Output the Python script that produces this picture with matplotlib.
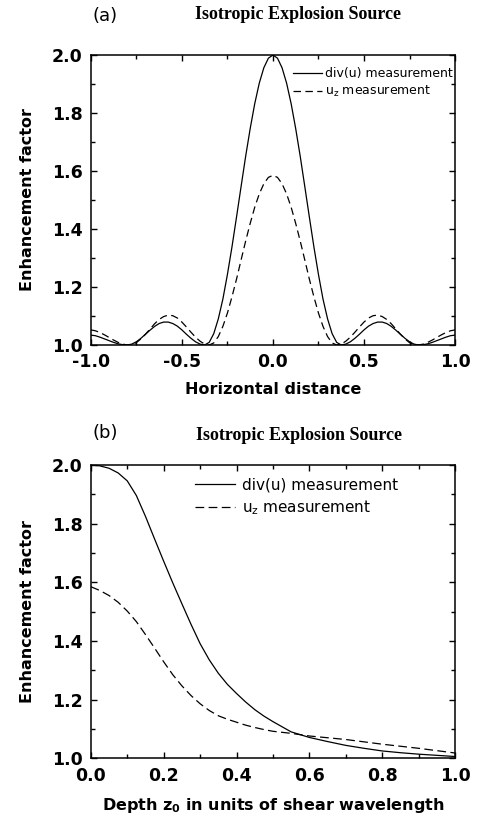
import numpy as np
import matplotlib
matplotlib.use('Agg')
import matplotlib.pyplot as plt
from matplotlib.ticker import MultipleLocator

# panel (a): enhancement factor vs horizontal distance
horiz_x = np.linspace(-1.0, 1.0, 81)
div_u_a = [1.034, 1.032, 1.027, 1.021, 1.015, 1.009, 1.004, 1.001, 1.000, 1.003,
           1.011, 1.023, 1.037, 1.051, 1.064, 1.074, 1.079, 1.079, 1.074, 1.065,
           1.052, 1.037, 1.023, 1.011, 1.003, 1.000, 1.009, 1.039, 1.090, 1.158,
           1.243, 1.338, 1.441, 1.546, 1.650, 1.746, 1.832, 1.903, 1.956, 1.989,
           2.000,
           1.989, 1.956, 1.903, 1.832, 1.746, 1.650, 1.546, 1.441, 1.338, 1.243,
           1.158, 1.090, 1.039, 1.009, 1.000, 1.003, 1.011, 1.023, 1.037, 1.052,
           1.065, 1.074, 1.079, 1.079, 1.074, 1.064, 1.051, 1.037, 1.023, 1.011,
           1.003, 1.000, 1.001, 1.004, 1.009, 1.015, 1.021, 1.027, 1.032, 1.034]
uz_a = [1.052, 1.049, 1.043, 1.035, 1.026, 1.017, 1.009, 1.003, 1.000, 1.001,
        1.008, 1.021, 1.037, 1.055, 1.073, 1.088, 1.098, 1.103, 1.101, 1.093,
        1.079, 1.062, 1.044, 1.027, 1.013, 1.003, 1.000, 1.007, 1.029, 1.064,
        1.110, 1.166, 1.227, 1.293, 1.358, 1.419, 1.475, 1.521, 1.556, 1.578,
        1.585,
        1.578, 1.556, 1.521, 1.475, 1.419, 1.358, 1.293, 1.227, 1.166, 1.110,
        1.064, 1.029, 1.007, 1.000, 1.003, 1.013, 1.027, 1.044, 1.062, 1.079,
        1.093, 1.101, 1.103, 1.098, 1.088, 1.073, 1.055, 1.037, 1.021, 1.008,
        1.001, 1.000, 1.003, 1.009, 1.017, 1.026, 1.035, 1.043, 1.049, 1.052]

# panel (b): enhancement factor vs source depth
depth = [0.0, 0.025, 0.05, 0.075, 0.1, 0.125, 0.15, 0.175, 0.2, 0.225, 0.25,
         0.275, 0.3, 0.325, 0.35, 0.375, 0.4, 0.425, 0.45, 0.475, 0.5,
         0.55, 0.6, 0.65, 0.7, 0.75, 0.8, 0.85, 0.9, 0.95, 1.0]
div_u_b = [2.000, 1.997, 1.989, 1.973, 1.946, 1.896, 1.825, 1.748, 1.672, 1.598,
           1.527, 1.457, 1.391, 1.336, 1.290, 1.252, 1.221, 1.192, 1.166, 1.144,
           1.125, 1.090, 1.071, 1.057, 1.044, 1.034, 1.025, 1.019, 1.014, 1.010,
           1.006]
uz_b = [1.585, 1.572, 1.555, 1.532, 1.502, 1.466, 1.422, 1.376, 1.329, 1.285,
        1.247, 1.214, 1.186, 1.163, 1.145, 1.133, 1.123, 1.113, 1.105, 1.098,
        1.092, 1.085, 1.076, 1.070, 1.064, 1.056, 1.048, 1.041, 1.034, 1.026,
        1.018]

title = 'Isotropic Explosion Source'
lab_div = 'div(u) measurement'
lab_uz = r'u$_{\mathregular{z}}$ measurement'

tick_font = {'family': 'DejaVu Sans', 'weight': 'bold', 'size': 12.5}
label_font = {'family': 'DejaVu Sans', 'weight': 'bold', 'size': 11.5}

fig = plt.figure(figsize=(4.78, 8.21), dpi=100)
ax1 = fig.add_axes([0.190, 0.5798, 0.762, 0.3532])
ax2 = fig.add_axes([0.190, 0.0764, 0.762, 0.3572])


def style_axes(ax, xmaj, xmin):
    ax.set_ylim(1.0, 2.0)
    ax.yaxis.set_major_locator(MultipleLocator(0.2))
    ax.yaxis.set_minor_locator(MultipleLocator(0.1))
    ax.xaxis.set_major_locator(MultipleLocator(xmaj))
    ax.xaxis.set_minor_locator(MultipleLocator(xmin))
    ax.tick_params(which='both', direction='in', top=True, right=True, width=1)
    ax.tick_params(which='major', length=4, pad=6)
    ax.tick_params(which='minor', length=3)
    for s in ax.spines.values():
        s.set_linewidth(1.1)
    for t in ax.get_xticklabels() + ax.get_yticklabels():
        t.set_fontproperties(matplotlib.font_manager.FontProperties(**tick_font))
    ax.yaxis.set_major_formatter(matplotlib.ticker.FormatStrFormatter('%.1f'))
    ax.xaxis.set_major_formatter(matplotlib.ticker.FormatStrFormatter('%.1f'))


def place_labels(ax, xl_y):
    ax.xaxis.set_label_coords(0.5, xl_y)
    ax.xaxis.label.set_va('center')
    ax.yaxis.set_label_coords(-0.173, 0.5)
    ax.yaxis.label.set_va('center')
    ax.yaxis.label.set_ha('center')


# (a)
ax1.plot(horiz_x, div_u_a, color='black', lw=0.9, label=lab_div)
ax1.plot(horiz_x, uz_a, color='black', lw=0.9, dashes=(6, 3.5), label=lab_uz)
ax1.set_xlim(-1.0, 1.0)
style_axes(ax1, 0.5, 0.25)
ax1.set_xlabel('Horizontal distance', fontdict=label_font)
ax1.set_ylabel('Enhancement factor', fontdict=label_font)
place_labels(ax1, -0.155)
ax1.legend(loc='upper left', bbox_to_anchor=(0.555, 0.957), frameon=False,
           borderpad=0, borderaxespad=0, handlelength=2.3, handletextpad=0.3,
           labelspacing=0.3, prop={'family': 'DejaVu Sans', 'size': 9})

# (b)
ax2.plot(depth, div_u_b, color='black', lw=0.9, label=lab_div)
ax2.plot(depth, uz_b, color='black', lw=0.9, dashes=(7, 3.5), label=lab_uz)
ax2.set_xlim(0.0, 1.0)
style_axes(ax2, 0.2, 0.1)
ax2.set_xlabel(r'Depth z$_{\mathregular{0}}$ in units of shear wavelength', fontdict=label_font)
ax2.set_ylabel('Enhancement factor', fontdict=label_font)
place_labels(ax2, -0.16)
ax2.legend(loc='upper left', bbox_to_anchor=(0.286, 0.958), frameon=False,
           borderpad=0, borderaxespad=0, handlelength=2.6, handletextpad=0.45,
           labelspacing=0.37, prop={'family': 'DejaVu Sans', 'size': 11})

# panel letters and titles
fig.text(0.2197, 0.9805, '(a)', ha='center', va='center', fontsize=13, family='DejaVu Sans')
fig.text(0.623, 0.9769, title, ha='center', va='baseline', fontsize=13,
         family='Liberation Serif', weight='bold')
fig.text(0.2197, 0.4732, '(b)', ha='center', va='center', fontsize=13, family='DejaVu Sans')
fig.text(0.626, 0.4641, title, ha='center', va='baseline', fontsize=13,
         family='Liberation Serif', weight='bold')

fig.savefig('out.png', dpi=100)
